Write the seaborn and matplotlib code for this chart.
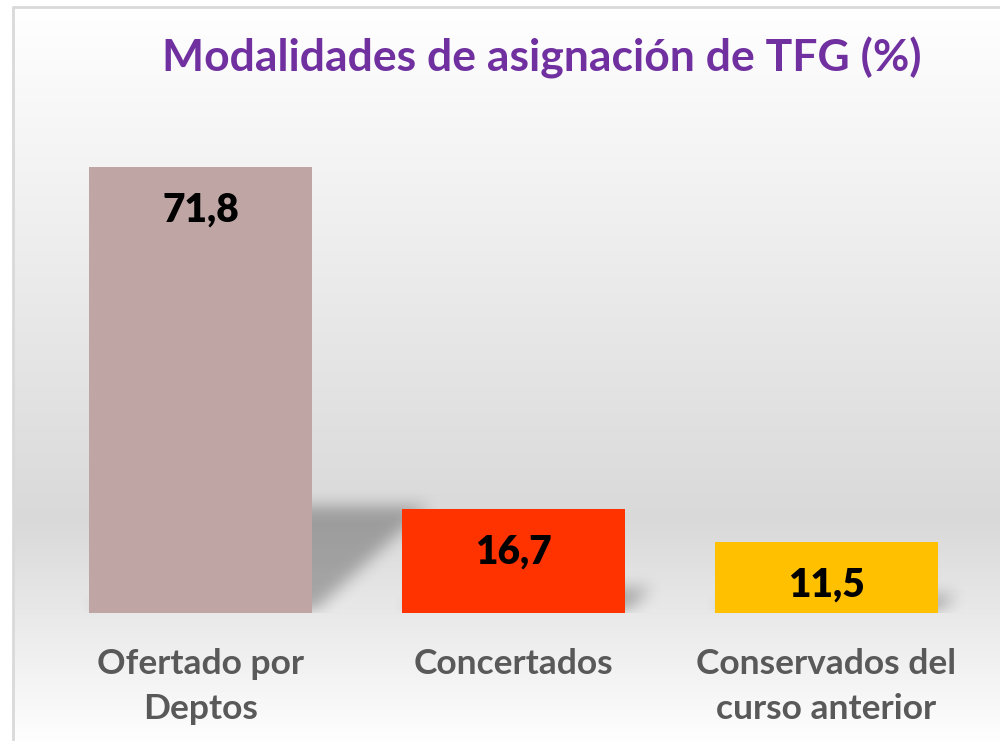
import numpy as np
import pandas as pd
import seaborn as sns
import matplotlib.pyplot as plt
from matplotlib.path import Path

# data
categories = ["Ofertado por\nDeptos", "Concertados", "Conservados del\ncurso anterior"]
values = [71.8, 16.7, 11.5]
value_labels = ["71,8", "16,7", "11,5"]
bar_colors = ["#C0A5A5", "#FF3300", "#FFC000"]
title = "Modalidades de asignación de TFG (%)"

df = pd.DataFrame({"modalidad": categories, "pct": values})

sns.set_style("white")
plt.rcParams["font.family"] = ["Lato", "DejaVu Sans"]

W, H = 1000, 741
fig = plt.figure(figsize=(W / 100, H / 100), dpi=100)

# background: white -> gray -> white gradient inside a thin frame
bg = fig.add_axes([0, 0, 1, 1])
img = np.ones((H, W, 3))
yy = np.arange(H, dtype=float)
shade = np.where(yy < 520, 1 - (38 / 255) * (yy - 7) / 513, 217 / 255 + (38 / 255) * (yy - 520) / 225)
shade = np.clip(shade, 0, 1)
img[7:, 13:, :] = shade[7:, None, None]
bg.imshow(img, extent=(0, W, H, 0), aspect="auto")
bg.plot([13, 13], [7, H], color="#D9D9D9", lw=2)
bg.plot([13, W], [7, 7], color="#D9D9D9", lw=2)
bg.set_xlim(0, W)
bg.set_ylim(H, 0)
bg.axis("off")

ax = fig.add_axes([0.044, 0.1727, 0.939, 0.6707])
ax.patch.set_alpha(0)
sns.barplot(data=df, x="modalidad", y="pct", hue="modalidad", palette=bar_colors,
            width=0.712, legend=False, saturation=1, linewidth=0, ax=ax, zorder=2)
bars = list(ax.patches)

XL, YL = (-0.5, 2.5), (0, 80)
ax.set_xlim(*XL)
ax.set_ylim(*YL)

# soft perspective shadows behind the bars
nx, ny = 939, 497
sx, sy = nx / 3, ny / 80
gx, gy = np.meshgrid(np.linspace(XL[0], XL[1], nx), np.linspace(YL[1], YL[0], ny))
pts = np.column_stack([gx.ravel(), gy.ravel()])
mask = np.zeros(nx * ny)
for p in bars:
    x0, w, h = p.get_x(), p.get_width(), p.get_height()
    hs = 0.24 * h
    dx = 1.09 * hs * sy / sx
    path = Path([(x0, 0), (x0 + w, 0), (x0 + w + dx, hs), (x0 + dx, hs)])
    mask = np.maximum(mask, path.contains_points(pts))
mask = mask.reshape(ny, nx).astype(float)
k = np.ones(15) / 15
for _ in range(3):
    mask = np.apply_along_axis(lambda m: np.convolve(m, k, mode="same"), 0, mask)
    mask = np.apply_along_axis(lambda m: np.convolve(m, k, mode="same"), 1, mask)
rgba = np.zeros((ny, nx, 4))
rgba[..., 3] = mask * 0.28
ax.imshow(rgba, extent=(XL[0], XL[1], YL[0], YL[1]), aspect="auto", zorder=1)
ax.set_xlim(*XL)
ax.set_ylim(*YL)

for p, lab in zip(bars, value_labels):
    ax.annotate(lab, (p.get_x() + p.get_width() / 2, p.get_height()),
                xytext=(0, -31), textcoords="offset points", ha="center", va="center",
                fontsize=28, fontweight="heavy", color="black", zorder=3)

ax.set_xlabel("")
ax.set_ylabel("")
ax.set_yticks([])
ax.tick_params(axis="x", length=0, pad=25, labelsize=25.5, labelcolor="#595959")
for t in ax.get_xticklabels():
    t.set_fontweight("bold")
    t.set_linespacing(1.5)
sns.despine(ax=ax, left=True, bottom=True)

fig.text(0.542, 1 - 58 / H, title, ha="center", va="center",
         fontsize=32, fontweight="bold", color="#7030A0")

fig.savefig("out.png", dpi=100)
